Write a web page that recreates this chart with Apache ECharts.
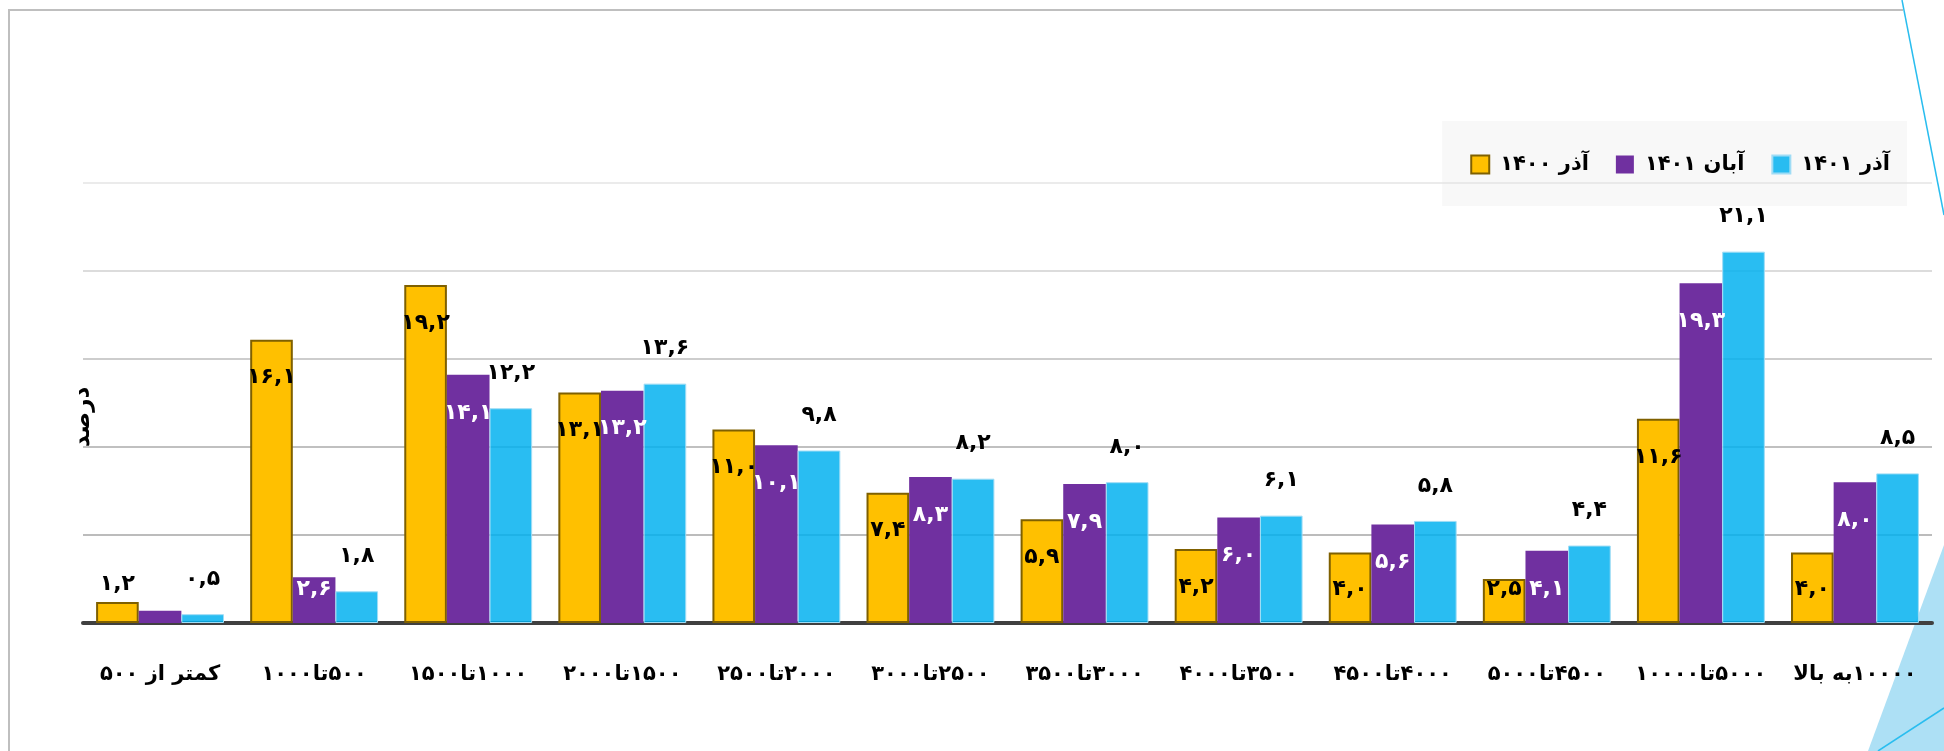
<!DOCTYPE html>
<html>
<head>
<meta charset="utf-8">
<script src="https://cdn.jsdelivr.net/npm/echarts@6/dist/echarts.min.js"></script>
<style>
  html, body { margin: 0; padding: 0; background: #ffffff; }
  #chart { width: 1944px; height: 751px; }
</style>
</head>
<body>
<div id="chart"></div>
<script>
// ---- data ----
const categories = ['کمتر از ۵۰۰', '۵۰۰تا۱۰۰۰', '۱۰۰۰تا۱۵۰۰', '۱۵۰۰تا۲۰۰۰', '۲۰۰۰تا۲۵۰۰', '۲۵۰۰تا۳۰۰۰',
  '۳۰۰۰تا۳۵۰۰', '۳۵۰۰تا۴۰۰۰', '۴۰۰۰تا۴۵۰۰', '۴۵۰۰تا۵۰۰۰', '۵۰۰۰تا۱۰۰۰۰', '۱۰۰۰۰به بالا'];
const seriesNames = ['آذر ۱۴۰۰', 'آبان ۱۴۰۱', 'آذر ۱۴۰۱'];
const azar1400 = [1.2, 16.1, 19.2, 13.1, 11.0, 7.4, 5.9, 4.2, 4.0, 2.5, 11.6, 4.0];
const aban1401 = [0.7, 2.6, 14.1, 13.2, 10.1, 8.3, 7.9, 6.0, 5.6, 4.1, 19.3, 8.0];
const azar1401 = [0.5, 1.8, 12.2, 13.6, 9.8, 8.2, 8.0, 6.1, 5.8, 4.4, 21.1, 8.5];
const yAxisName = 'درصد';

// ---- helpers ----
const FONT = 'DejaVu Sans';
const faDigits = '۰۱۲۳۴۵۶۷۸۹';
const toFa = s => String(s).replace(/\d/g, d => faDigits[d]);
const fmt = v => toFa(v.toFixed(1).replace('.', ','));
const rtl = s => '\u202B' + s + '\u202C';

const Y_MAX = 25, GRID_TOP = 183, GRID_BOTTOM = 128, H = 751;
const pxPerUnit = (H - GRID_TOP - GRID_BOTTOM) / Y_MAX;

function insideItems(values, hideSmall) {
  return values.map(v => {
    const h = v * pxPerUnit;
    if (h < 30) {
      return hideSmall ? { value: v, label: { show: false } }
                       : { value: v, label: { position: 'top', distance: 7 } };
    }
    return { value: v, label: { position: 'insideTop', distance: Math.max(-2, Math.min(27, h - 45)) } };
  });
}

const labelBase = { show: true, fontFamily: FONT, fontWeight: 'bold', fontSize: 22, formatter: p => fmt(p.value) };

const chart = echarts.init(document.getElementById('chart'), null, { renderer: 'canvas' });
chart.setOption({
  backgroundColor: '#ffffff',
  animation: false,
  textStyle: { fontFamily: FONT },
  grid: { left: 83, right: 12, top: GRID_TOP, bottom: GRID_BOTTOM, containLabel: false },
  legend: {
    right: 37, top: 121,
    z: -1,
    icon: 'rect',
    backgroundColor: '#f8f8f8',
    padding: [33, 17, 31, 28],
    itemWidth: 18, itemHeight: 18, itemGap: 27,
    textStyle: { fontFamily: FONT, fontWeight: 'bold', fontSize: 21, color: '#000', padding: [0, 0, 0, 6] },
    data: seriesNames
  },
  xAxis: {
    type: 'category',
    data: categories,
    axisLine: { lineStyle: { color: '#404040', width: 4 } },
    axisTick: { show: false },
    axisLabel: { interval: 0, margin: 41, color: '#000', fontFamily: FONT, fontWeight: 'bold', fontSize: 21,
      formatter: v => rtl(v) }
  },
  yAxis: {
    type: 'value', min: 0, max: Y_MAX, interval: 5,
    name: yAxisName, nameLocation: 'middle', nameGap: -12,
    nameTextStyle: { fontFamily: FONT, fontWeight: 'bold', fontSize: 23, color: '#000', padding: [0, 28, 0, 0] },
    axisLine: { show: false }, axisTick: { show: false }, axisLabel: { show: false },
    splitLine: { lineStyle: { width: 1.5, color: ['#999999', '#a6a6a6', '#ababab', '#bcbcbc', '#d0d0d0', '#e4e4e4'] } }
  },
  series: [
    {
      name: seriesNames[0], type: 'bar', barGap: '0%', barCategoryGap: '17%',
      itemStyle: { color: '#FFC000', borderColor: '#7F6000', borderWidth: 2 },
      label: Object.assign({}, labelBase, { color: '#000' }),
      data: insideItems(azar1400, false)
    },
    {
      name: seriesNames[1], type: 'bar',
      itemStyle: { color: '#7030A0' },
      label: Object.assign({}, labelBase, { color: '#fff' }),
      data: insideItems(aban1401, true)
    },
    {
      name: seriesNames[2], type: 'bar',
      itemStyle: { color: 'rgba(0,176,240,0.84)', borderColor: '#9fdcf5', borderWidth: 1 },
      label: Object.assign({}, labelBase, { color: '#000', position: 'top', distance: 24 }),
      data: azar1401
    }
  ],
  graphic: [
    { type: 'polyline', z: -10, shape: { points: [[1903, 10], [9, 10], [9, 751]] }, style: { stroke: '#bfbfbf', lineWidth: 2, fill: null } },
    { type: 'line', z: -10, shape: { x1: 1902, y1: 0, x2: 1944, y2: 215 }, style: { stroke: '#29BDEF', lineWidth: 1.5 } },
    { type: 'polygon', z: -10, shape: { points: [[1944, 545], [1868, 751], [1944, 751]] }, style: { fill: '#ADE0F5' } },
    { type: 'line', z: -10, shape: { x1: 1878, y1: 751, x2: 1944, y2: 708 }, style: { stroke: '#29BDEF', lineWidth: 1.5 } }
  ]
});
</script>
</body>
</html>
